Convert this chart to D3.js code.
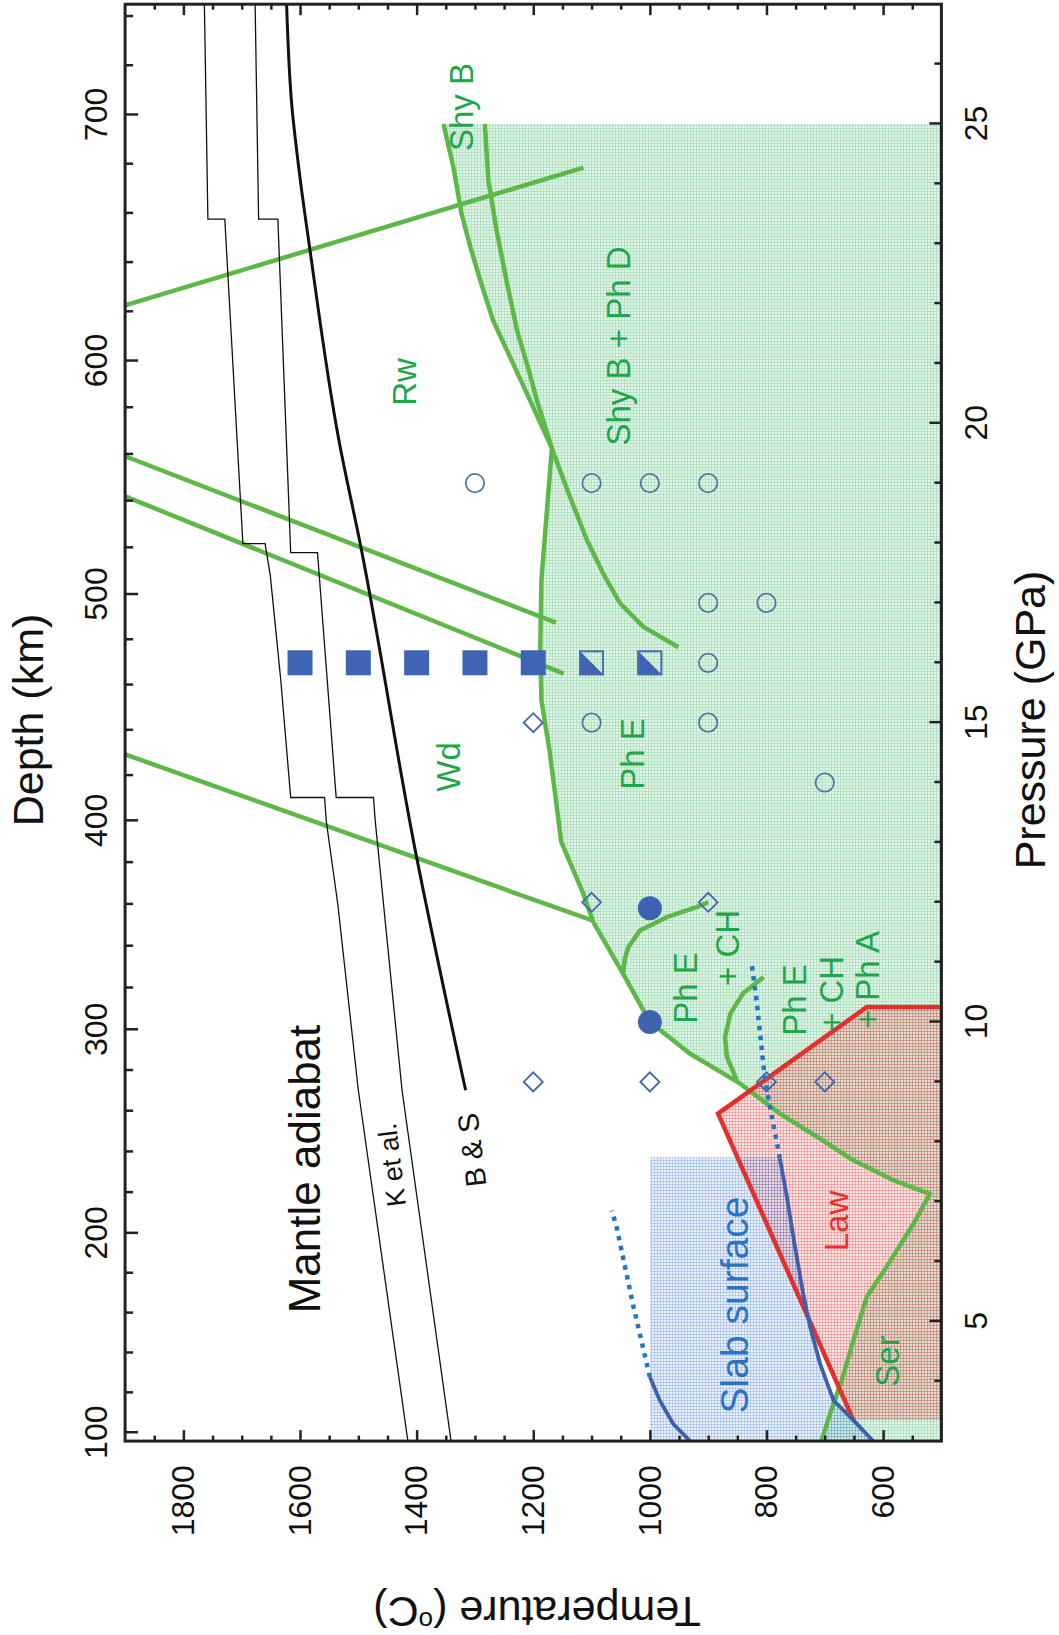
<!DOCTYPE html>
<html>
<head>
<meta charset="utf-8">
<script src="https://cdn.jsdelivr.net/npm/d3@7/dist/d3.min.js"></script>
<style>
  html, body { margin: 0; padding: 0; background: #fff; }
  svg { display: block; }
  text { font-family: "Liberation Sans", Arial, Helvetica, sans-serif; }
</style>
</head>
<body>
<svg id="chart" width="1059" height="1635"></svg>
<script>
// ---------- Data: pressure P (GPa), temperature T (°C) ----------

// Mantle adiabats
const adiabatKetalHot = [[3,1415],[8.86,1500],[11.95,1535],[13.36,1555],[13.75,1558],[13.75,1616],
  [15.71,1633],[17.46,1651],[17.99,1660],[17.99,1698],[23.41,1729],[23.41,1758],[27,1764]];
const adiabatKetalCool = [[3,1341],[8.86,1425],[13.36,1471],[13.75,1474],[13.75,1538],[17.84,1570],
  [17.84,1616],[23.41,1638],[23.41,1671],[27,1677]];
const adiabatBS = [[8.86,1316],[12.8,1401],[18.0,1497],[19.7,1533],[22.9,1583],[24.1,1600],[25.3,1614],[27,1623]];

// Phase boundaries
const boundary660 = [[21.97,1900],[24.27,1114]];
const boundaryWdRwA = [[19.45,1900],[16.67,1161]];
const boundaryWdRwB = [[18.78,1900],[15.82,1148]];
const boundary410 = [[14.47,1900],[11.70,1100]];

// Stability limit of the hydrous phases: Shy B, then Ph E, then serpentine
const hydrousLimit = [[25.0,1354],[24.28,1337],[23.5,1323],[22.95,1308],[22.39,1291],[21.72,1269],
  [21.11,1240],[20.5,1211],[19.58,1168],[18.49,1177],[17.38,1186],[16.26,1188],[15.37,1186],
  [14.53,1172],[13.01,1152],[12.14,1114],[11.67,1097],[10.81,1046],[10.0,1000],[9.47,931],
  [8.97,845],[8.47,777],[8.05,708],[7.69,651],[7.36,583],[7.13,520],[6.63,548],[5.91,594],
  [5.41,628],[4.68,651],[4.01,671],[3.63,685],[3.0,706]];
// Shy B + Ph D / Ph E boundary
const shyBPhD = [[25.0,1283],[24.06,1277],[23.23,1263],[22.39,1246],[21.56,1228],[20.83,1206],
  [20.39,1194],[19.58,1168],[18.77,1137],[18.05,1108],[17.49,1080],[16.99,1051],[16.6,1011],[16.26,951]];
// Ph E + CH and Ph E + CH + Ph A fields
const phECH = [[10.81,1046],[11.05,1043],[11.25,1037],[11.53,1017],[11.75,971],[11.92,920],[12.0,900]];
const phECHPhA = [[9.03,851],[9.42,868],[9.75,871],[10.14,862],[10.48,840],[10.75,805]];

// Lawsonite stability field
const lawsonite = [[10.25,500],[10.25,628],[8.47,883],[3.35,651],[3.35,500]];

// Slab surface geotherms
const slabHotSolid = [[3.0,931],[3.29,960],[3.68,983],[4.07,1000]];
const slabHotDotted = [[4.07,1000],[5.24,1028],[6.07,1046],[6.57,1057],[6.85,1065]];
const slabCoolSolid = [[3.0,617],[3.35,651],[3.68,685],[4.29,708],[4.9,725],[5.46,737],[6.24,751],[7.08,765],[7.72,777]];
const slabCoolDotted = [[7.72,777],[8.58,794],[9.08,803],[9.81,811],[10.36,817],[10.95,825]];
const slabShadeLimit = {T: 1000, P: 7.74};

// Experimental runs
const runsFilledSquare = [[16,1600],[16,1500],[16,1400],[16,1300],[16,1200]];
const runsHalfSquare = [[16,1100],[16,1000]];
const runsFilledCircle = [[10,1000],[11.9,1000]];
const runsOpenCircle = [[19,1300],[19,1100],[19,1000],[19,900],[17,900],[17,800],[16,900],[15,1100],[15,900],[14,700]];
const runsDiamond = [[15,1200],[12,1100],[12,900],[9,1200],[9,1000],[9,800],[9,700]];

// Axis ticks
const tempMajor = [600,800,1000,1200,1400,1600,1800];
const tempMinor = d3.range(550,1900,50).filter(t => !tempMajor.includes(t));
const pressureMajor = [5,10,15,20,25];
const pressureMinor = d3.range(4,27,1).filter(p => !pressureMajor.includes(p));
const depthKm = [100,200,300,400,500,600,700];
const depthP = [3.14,6.47,9.87,13.36,17.14,21.04,25.15];
const depthMinor = d3.range(120,741,20).filter(d => !depthKm.includes(d));

// ---------- Layout (drawn landscape, then turned a quarter turn) ----------
const W = 1059, H = 1635;
const frame = {left: 193.9, right: 1630.8, top: 125.1, bottom: 941.4};

const svg = d3.select("#chart");
const g = svg.append("g").attr("transform", `translate(0,${H}) rotate(-90)`);

const x = d3.scaleLinear().domain([3,27]).range([frame.left, frame.right]);
const y = d3.scaleLinear().domain([500,1900]).range([frame.bottom, frame.top]);
const depthScale = d3.scaleLinear().domain(depthKm).range(depthP.map(p => x(p)));

const defs = svg.append("defs");
defs.append("clipPath").attr("id","plotClip").append("rect")
  .attr("x", frame.left).attr("y", frame.top)
  .attr("width", frame.right - frame.left).attr("height", frame.bottom - frame.top);

function gridPattern(id, bg, ln) {
  const p = defs.append("pattern").attr("id", id).attr("patternUnits","userSpaceOnUse")
    .attr("width",3).attr("height",3);
  p.append("rect").attr("width",3).attr("height",3).attr("fill",bg);
  p.append("path").attr("d","M0,0.5H3M0.5,0V3").attr("stroke",ln).attr("stroke-width",1);
}
gridPattern("gridGreen", "#e4f5ea", "#b5e2c5");
gridPattern("gridPink", "rgba(228,70,70,0.14)", "rgba(225,60,60,0.30)");
gridPattern("gridBlue", "rgba(70,130,210,0.12)", "rgba(70,125,210,0.27)");

const line = d3.line().x(d => x(d[0])).y(d => y(d[1]));
const plot = g.append("g").attr("clip-path","url(#plotClip)");

// ---------- Shaded fields ----------
const greenField = [[25,500], ...hydrousLimit, [3,500]];
plot.append("path").attr("d", line(greenField) + "Z").attr("fill","url(#gridGreen)");

plot.append("path").attr("d", line(lawsonite) + "Z").attr("fill","url(#gridPink)");

const slabField = [[3,slabShadeLimit.T],[slabShadeLimit.P,slabShadeLimit.T],[slabShadeLimit.P,777],
  ...slabCoolSolid.slice().reverse()];
plot.append("path").attr("d", line(slabField) + "Z").attr("fill","url(#gridBlue)");

// ---------- Phase boundaries ----------
const green = "#5db847";
[boundary660, boundaryWdRwA, boundaryWdRwB, boundary410, hydrousLimit, shyBPhD, phECH, phECHPhA]
  .forEach(d => plot.append("path").attr("d", line(d)).attr("fill","none")
    .attr("stroke", green).attr("stroke-width", 4.5).attr("stroke-linejoin","round"));

// Lawsonite outline (frame side left open)
plot.append("path").attr("d", line(lawsonite.slice(0,4))).attr("fill","none")
  .attr("stroke","#e3302b").attr("stroke-width",4.5).attr("stroke-linejoin","miter");

// Slab surface geotherms
[slabHotSolid, slabCoolSolid].forEach(d => plot.append("path").attr("d", line(d)).attr("fill","none")
  .attr("stroke","#3c5fae").attr("stroke-width",3.8));
[slabHotDotted, slabCoolDotted].forEach(d => plot.append("path").attr("d", line(d)).attr("fill","none")
  .attr("stroke","#2476c3").attr("stroke-width",4.5).attr("stroke-dasharray","4.5 5.5"));

// ---------- Mantle adiabats ----------
[adiabatKetalHot, adiabatKetalCool].forEach(d => plot.append("path").attr("d", line(d))
  .attr("fill","none").attr("stroke","#111").attr("stroke-width",1.3));
plot.append("path").attr("d", d3.line().x(d => x(d[0])).y(d => y(d[1])).curve(d3.curveMonotoneX)(adiabatBS))
  .attr("fill","none").attr("stroke","#111").attr("stroke-width",3);

// ---------- Experimental runs ----------
const runs = g.append("g");
const sq = 12.5;
runs.selectAll(".fsq").data(runsFilledSquare).join("rect")
  .attr("x", d => x(d[0]) - sq).attr("y", d => y(d[1]) - sq)
  .attr("width", 2*sq).attr("height", 2*sq).attr("fill","#3f64b4");
runs.selectAll(".hsq").data(runsHalfSquare).join("g")
  .attr("transform", d => `translate(${x(d[0])},${y(d[1])})`)
  .each(function() {
    const s = d3.select(this);
    s.append("path").attr("d", `M${sq},${-sq}L${-sq},${-sq}L${-sq},${sq}Z`).attr("fill","#3f64b4");
    s.append("rect").attr("x",-sq+1).attr("y",-sq+1).attr("width",2*sq-2).attr("height",2*sq-2)
      .attr("fill","none").attr("stroke","#4a6aae").attr("stroke-width",2);
  });
runs.selectAll(".fc").data(runsFilledCircle).join("circle")
  .attr("cx", d => x(d[0])).attr("cy", d => y(d[1])).attr("r", 12).attr("fill","#3d62b0");
runs.selectAll(".oc").data(runsOpenCircle).join("circle")
  .attr("cx", d => x(d[0])).attr("cy", d => y(d[1])).attr("r", 9.2)
  .attr("fill","none").attr("stroke","#56759e").attr("stroke-width",1.8);
const dm = 9.5;
runs.selectAll(".dm").data(runsDiamond).join("path")
  .attr("d", d => `M${x(d[0])},${y(d[1]) - dm}L${x(d[0]) + dm},${y(d[1])}L${x(d[0])},${y(d[1]) + dm}L${x(d[0]) - dm},${y(d[1])}Z`)
  .attr("fill","none").attr("stroke","#4565aa").attr("stroke-width",1.8);

// ---------- Axes ----------
function styleAxis(sel) {
  sel.select(".domain").remove();
  sel.attr("font-size", 32).attr("font-family", '"Liberation Sans", Arial, sans-serif').attr("color","#222");
  sel.selectAll(".tick line").attr("stroke-width", 2.5);
  sel.selectAll(".tick text").attr("fill","#111");
}
// Pressure
g.append("g").attr("transform", `translate(0,${frame.bottom})`)
  .call(d3.axisBottom(x).tickValues(pressureMajor).tickSizeInner(-12).tickSizeOuter(0).tickPadding(23).tickFormat(d3.format("d")))
  .call(styleAxis);
g.append("g").attr("transform", `translate(0,${frame.bottom})`)
  .call(d3.axisBottom(x).tickValues(pressureMinor).tickSizeInner(-7).tickSizeOuter(0).tickFormat(""))
  .call(styleAxis);
// Depth
g.append("g").attr("transform", `translate(0,${frame.top})`)
  .call(d3.axisTop(depthScale).tickValues(depthKm).tickSizeInner(-13).tickSizeOuter(0).tickPadding(18).tickFormat(d3.format("d")))
  .call(styleAxis);
g.append("g").attr("transform", `translate(0,${frame.top})`)
  .call(d3.axisTop(depthScale).tickValues(depthMinor).tickSizeInner(-8).tickSizeOuter(0).tickFormat(""))
  .call(styleAxis);
// Temperature
g.append("g").attr("transform", `translate(${frame.left},0)`)
  .call(d3.axisLeft(y).tickValues(tempMajor).tickSizeInner(-11).tickSizeOuter(0).tickPadding(24).tickFormat(d3.format("d")))
  .call(styleAxis);
g.append("g").attr("transform", `translate(${frame.left},0)`)
  .call(d3.axisLeft(y).tickValues(tempMinor).tickSizeInner(-5.5).tickSizeOuter(0).tickFormat(""))
  .call(styleAxis);
g.append("g").attr("transform", `translate(${frame.right},0)`)
  .call(d3.axisRight(y).tickValues(tempMajor).tickSizeInner(-11).tickSizeOuter(0).tickFormat(""))
  .call(styleAxis);
g.append("g").attr("transform", `translate(${frame.right},0)`)
  .call(d3.axisRight(y).tickValues(tempMinor).tickSizeInner(-5.5).tickSizeOuter(0).tickFormat(""))
  .call(styleAxis);

g.append("rect").attr("x", frame.left).attr("y", frame.top)
  .attr("width", frame.right - frame.left).attr("height", frame.bottom - frame.top)
  .attr("fill","none").attr("stroke","#222").attr("stroke-width",3);

// Axis titles
g.append("text").attr("x", 915).attr("y", 43).attr("text-anchor","middle")
  .attr("font-size", 43).attr("fill","#111").text("Depth (km)");
g.append("text").attr("x", 915).attr("y", 1045).attr("text-anchor","middle")
  .attr("font-size", 43).attr("fill","#111").text("Pressure (GPa)");
const tTitle = g.append("text").attr("transform","translate(38,537) rotate(-90)")
  .attr("text-anchor","middle").attr("font-size", 43).attr("fill","#111");
tTitle.append("tspan").text("Temperature (");
tTitle.append("tspan").attr("font-size", 26).attr("dy", -15).text("o");
tTitle.append("tspan").attr("dy", 15).text("C)");

// ---------- Labels ----------
const labels = [
  {t:"Shy B", u:1528, v:473, c:"#1fa64b", s:33},
  {t:"Shy B + Ph D", u:1289, v:630, c:"#1fa64b", s:33},
  {t:"Rw", u:1253, v:416, c:"#1fa64b", s:33},
  {t:"Wd", u:868, v:460, c:"#1fa64b", s:33},
  {t:"Ph E", u:881, v:644, c:"#1fa64b", s:33},
  {t:"Ph E", u:647, v:697, c:"#1fa64b", s:33},
  {t:"+ CH", u:687, v:739, c:"#1fa64b", s:33},
  {t:"Ph E", u:635, v:806, c:"#1fa64b", s:33},
  {t:"+ CH", u:641, v:843, c:"#1fa64b", s:33},
  {t:"+ Ph A", u:655, v:879, c:"#1fa64b", s:33},
  {t:"Law", u:414, v:848, c:"#e8312f", s:33},
  {t:"Ser", u:274, v:899, c:"#1fa64b", s:33},
  {t:"Slab surface", u:330, v:748, c:"#2f72c0", s:39},
  {t:"Mantle adiabat", u:466, v:320, c:"#111", s:44}
];
g.selectAll(".lbl").data(labels).join("text")
  .attr("x", d => d.u).attr("y", d => d.v).attr("text-anchor","middle")
  .attr("font-size", d => d.s).attr("fill", d => d.c).text(d => d.t);

g.append("text").attr("transform","translate(470,392) rotate(-7)").attr("text-anchor","middle")
  .attr("dominant-baseline","central").attr("font-size",27).attr("fill","#111").text("K et al.");
g.append("text").attr("transform","translate(485,472) rotate(-7)").attr("text-anchor","middle")
  .attr("dominant-baseline","central").attr("font-size",29).attr("fill","#111").text("B & S");
</script>
</body>
</html>
